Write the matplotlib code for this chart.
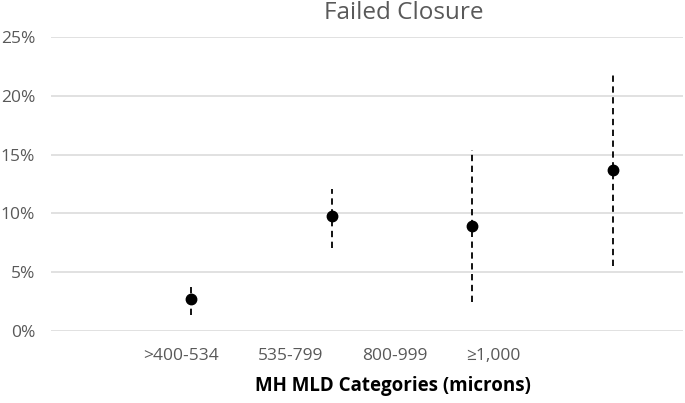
import matplotlib
matplotlib.use("Agg")
import matplotlib.pyplot as plt
from matplotlib.ticker import PercentFormatter

# Data
categories = [">400-534", "535-799", "800-999", "\u22651,000"]
rate = [2.7, 9.8, 8.9, 13.7]          # %
ci_low = [1.35, 7.05, 2.5, 5.55]       # %
ci_high = [4.1, 12.1, 15.35, 21.8]     # %
yticks = [0, 5, 10, 15, 20, 25]

# Layout
xpos = [1, 2, 3, 4]
label_pos = [0.932, 1.708, 2.452, 3.153]

plt.rcParams['font.family'] = ['Open Sans', 'DejaVu Sans']
fig = plt.figure(figsize=(6.85, 4.03), dpi=100)
W, H = 685, 403
ax = fig.add_axes([50.5 / W, (H - 331) / H, (683 - 50.5) / W, (331 - 37) / H])

for y in yticks:
    ax.axhline(y, color='#dedede', lw=1.3, zorder=0)

ax.vlines(xpos, ci_low, ci_high, colors='black', linestyles=(0, (3.5, 2.5)), lw=1.3, zorder=2)
ax.plot(xpos, rate, 'o', color='black', markersize=7.5, zorder=3)

ax.set_xlim(0, 4.5)
ax.set_ylim(0, 25)
ax.set_yticks(yticks)
ax.yaxis.set_major_formatter(PercentFormatter(decimals=0))
ax.set_xticks(label_pos)
ax.set_xticklabels(categories)
ax.tick_params(axis='both', length=0, labelsize=12.5, labelcolor='#595959')
ax.tick_params(axis='y', pad=11)
ax.tick_params(axis='x', pad=12)
for s in ax.spines.values():
    s.set_visible(False)

fig.text(403.5 / W, 1 - 13 / H, "Failed Closure", ha='center', va='center', fontsize=17.5, color='#595959')
fig.text(392.5 / W, 1 - 386 / H, "MH MLD Categories (microns)", ha='center', va='center',
         fontsize=13.5, fontweight='bold', color='black')

fig.savefig("out.png", dpi=100)
